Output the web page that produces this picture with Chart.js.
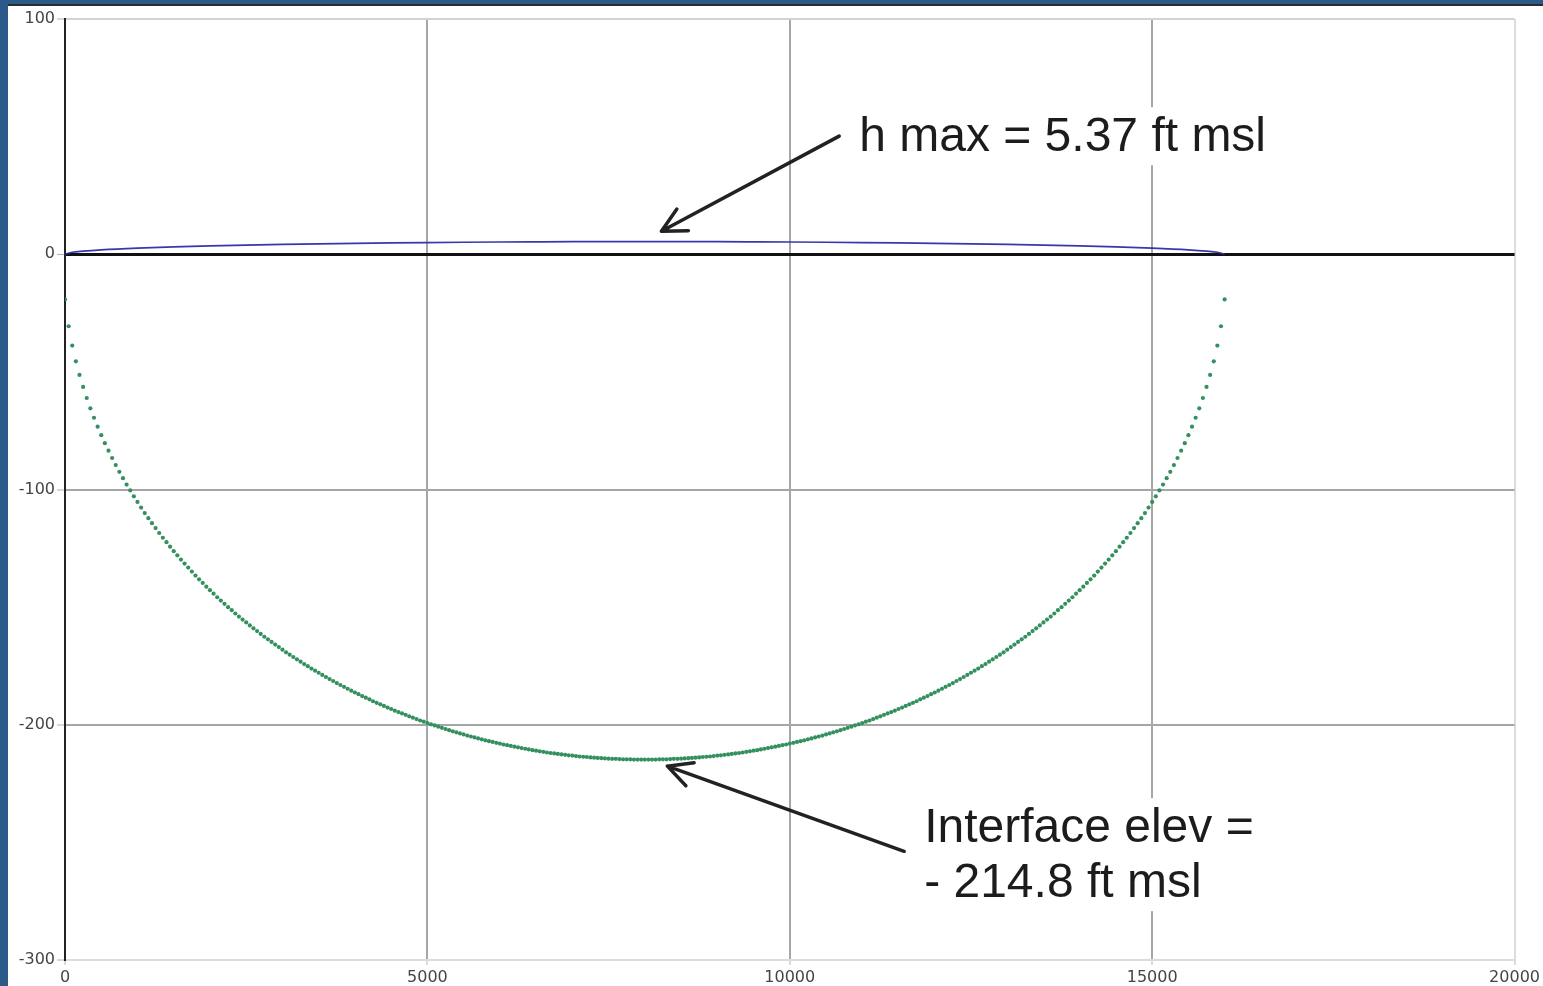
<!DOCTYPE html>
<html>
<head>
<meta charset="utf-8">
<title>Freshwater lens cross-section</title>
<script src="https://cdn.jsdelivr.net/npm/chart.js@4.4.1/dist/chart.umd.min.js"></script>
<style>
  html, body { margin: 0; padding: 0; }
  body { width: 1543px; height: 986px; background: #2b5a8a; overflow: hidden; position: relative; }
  .panel {
    position: absolute; left: 8px; top: 4px; width: 1535px; height: 980px;
    background: #fff; border-top: 2px solid #2a2d30;
  }
  .panel canvas { display: block; }
</style>
</head>
<body>
<div class="panel"><canvas id="lens-chart" width="1535" height="980"></canvas></div>
<script>
/* Freshwater lens: head above msl and fresh/salt interface */

// distance along section (ft) for the interface points
var DIST_FT = [
  0,50,100,150,200,250,300,350,400,450,500,550,600,650,700,750,800,850,900,950,
  1000,1050,1100,1150,1200,1250,1300,1350,1400,1450,1500,1550,1600,1650,1700,1750,1800,1850,1900,1950,
  2000,2050,2100,2150,2200,2250,2300,2350,2400,2450,2500,2550,2600,2650,2700,2750,2800,2850,2900,2950,
  3000,3050,3100,3150,3200,3250,3300,3350,3400,3450,3500,3550,3600,3650,3700,3750,3800,3850,3900,3950,
  4000,4050,4100,4150,4200,4250,4300,4350,4400,4450,4500,4550,4600,4650,4700,4750,4800,4850,4900,4950,
  5000,5050,5100,5150,5200,5250,5300,5350,5400,5450,5500,5550,5600,5650,5700,5750,5800,5850,5900,5950,
  6000,6050,6100,6150,6200,6250,6300,6350,6400,6450,6500,6550,6600,6650,6700,6750,6800,6850,6900,6950,
  7000,7050,7100,7150,7200,7250,7300,7350,7400,7450,7500,7550,7600,7650,7700,7750,7800,7850,7900,7950,
  8000,8050,8100,8150,8200,8250,8300,8350,8400,8450,8500,8550,8600,8650,8700,8750,8800,8850,8900,8950,
  9000,9050,9100,9150,9200,9250,9300,9350,9400,9450,9500,9550,9600,9650,9700,9750,9800,9850,9900,9950,
  10000,10050,10100,10150,10200,10250,10300,10350,10400,10450,10500,10550,10600,10650,10700,10750,10800,10850,10900,10950,
  11000,11050,11100,11150,11200,11250,11300,11350,11400,11450,11500,11550,11600,11650,11700,11750,11800,11850,11900,11950,
  12000,12050,12100,12150,12200,12250,12300,12350,12400,12450,12500,12550,12600,12650,12700,12750,12800,12850,12900,12950,
  13000,13050,13100,13150,13200,13250,13300,13350,13400,13450,13500,13550,13600,13650,13700,13750,13800,13850,13900,13950,
  14000,14050,14100,14150,14200,14250,14300,14350,14400,14450,14500,14550,14600,14650,14700,14750,14800,14850,14900,14950,
  15000,15050,15100,15150,15200,15250,15300,15350,15400,15450,15500,15550,15600,15650,15700,15750,15800,15850,15900,15950,
  16000
];

// interface elevation (ft msl)
var INTERFACE_FT = [
  -19.2,-30.6,-38.8,-45.5,-51.3,-56.4,-61.1,-65.5,-69.5,-73.3,-76.9,-80.3,-83.5,-86.6,-89.6,-92.5,-95.2,-97.9,-100.4,-102.9,
  -105.3,-107.7,-110.0,-112.2,-114.3,-116.4,-118.5,-120.5,-122.4,-124.3,-126.2,-128.0,-129.8,-131.5,-133.2,-134.9,-136.6,-138.2,-139.7,-141.3,
  -142.8,-144.3,-145.8,-147.2,-148.6,-150.0,-151.3,-152.7,-154.0,-155.3,-156.5,-157.8,-159.0,-160.2,-161.4,-162.6,-163.7,-164.8,-165.9,-167.0,
  -168.1,-169.2,-170.2,-171.2,-172.2,-173.2,-174.2,-175.1,-176.1,-177.0,-177.9,-178.8,-179.7,-180.6,-181.4,-182.3,-183.1,-183.9,-184.7,-185.5,
  -186.3,-187.0,-187.8,-188.5,-189.2,-190.0,-190.7,-191.3,-192.0,-192.7,-193.3,-194.0,-194.6,-195.2,-195.8,-196.4,-197.0,-197.6,-198.2,-198.7,
  -199.3,-199.8,-200.3,-200.8,-201.3,-201.8,-202.3,-202.8,-203.2,-203.7,-204.1,-204.6,-205.0,-205.4,-205.8,-206.2,-206.6,-207.0,-207.3,-207.7,
  -208.0,-208.4,-208.7,-209.0,-209.3,-209.6,-209.9,-210.2,-210.5,-210.8,-211.0,-211.3,-211.5,-211.8,-212.0,-212.2,-212.4,-212.6,-212.8,-213.0,
  -213.1,-213.3,-213.5,-213.6,-213.7,-213.9,-214.0,-214.1,-214.2,-214.3,-214.4,-214.5,-214.5,-214.6,-214.7,-214.7,-214.7,-214.8,-214.8,-214.8,
  -214.8,
  -214.8,-214.8,-214.8,-214.7,-214.7,-214.7,-214.6,-214.5,-214.5,-214.4,-214.3,-214.2,-214.1,-214.0,-213.9,-213.7,-213.6,-213.5,-213.3,-213.1,
  -213.0,-212.8,-212.6,-212.4,-212.2,-212.0,-211.8,-211.5,-211.3,-211.0,-210.8,-210.5,-210.2,-209.9,-209.6,-209.3,-209.0,-208.7,-208.4,-208.0,
  -207.7,-207.3,-207.0,-206.6,-206.2,-205.8,-205.4,-205.0,-204.6,-204.1,-203.7,-203.2,-202.8,-202.3,-201.8,-201.3,-200.8,-200.3,-199.8,-199.3,
  -198.7,-198.2,-197.6,-197.0,-196.4,-195.8,-195.2,-194.6,-194.0,-193.3,-192.7,-192.0,-191.3,-190.7,-190.0,-189.2,-188.5,-187.8,-187.0,-186.3,
  -185.5,-184.7,-183.9,-183.1,-182.3,-181.4,-180.6,-179.7,-178.8,-177.9,-177.0,-176.1,-175.1,-174.2,-173.2,-172.2,-171.2,-170.2,-169.2,-168.1,
  -167.0,-165.9,-164.8,-163.7,-162.6,-161.4,-160.2,-159.0,-157.8,-156.5,-155.3,-154.0,-152.7,-151.3,-150.0,-148.6,-147.2,-145.8,-144.3,-142.8,
  -141.3,-139.7,-138.2,-136.6,-134.9,-133.2,-131.5,-129.8,-128.0,-126.2,-124.3,-122.4,-120.5,-118.5,-116.4,-114.3,-112.2,-110.0,-107.7,-105.3,
  -102.9,-100.4,-97.9,-95.2,-92.5,-89.6,-86.6,-83.5,-80.3,-76.9,-73.3,-69.5,-65.5,-61.1,-56.4,-51.3,-45.5,-38.8,-30.6,-19.2
];

// water table (head) along the section, ft msl
var HEAD_X = [0,100,250,500,1000,1500,2000,2500,3000,3500,4000,4500,5000,5500,6000,6500,7000,7500,8000,
  8500,9000,9500,10000,10500,11000,11500,12000,12500,13000,13500,14000,14500,15000,15500,15750,15900,16000];
var HEAD_FT = [0,0.85,1.33,1.87,2.60,3.13,3.55,3.90,4.19,4.44,4.65,4.83,4.98,5.10,5.20,5.27,5.33,5.36,5.37,
  5.36,5.33,5.27,5.20,5.10,4.98,4.83,4.65,4.44,4.19,3.90,3.55,3.13,2.60,1.87,1.33,0.85,0];

var X_TICKS = [0, 5000, 10000, 15000, 20000];
var Y_TICKS = [100, 0, -100, -200, -300];

// callouts, anchored in data units
var NOTES = [
  { lines: ['h max = 5.37 ft msl'], x: 10958, y: 43.8, tip: [8229, 9.8], tail: [10682, 50.2] },
  { lines: ['Interface elev =', '- 214.8 ft msl'], x: 11854, y: -249.9, tip: [8311, -217.6], tail: [11578, -253.8] }
];

(function () {
  'use strict';

  function pairs(xs, ys) {
    return xs.map(function (x, i) { return { x: x, y: ys[i] }; });
  }

  function plain(v) { return String(v); }

  var tickFont = { family: '"DejaVu Sans", Verdana, sans-serif', size: 16 };

  var calloutPlugin = {
    id: 'callouts',
    afterDraw: function (chart) {
      var c = chart.ctx, xs = chart.scales.x, ys = chart.scales.y;
      c.save();
      c.font = '48px "Liberation Sans", Arial, sans-serif';
      c.textBaseline = 'alphabetic';
      NOTES.forEach(function (n) {
        var px = xs.getPixelForValue(n.x), py = ys.getPixelForValue(n.y);
        var w = 0;
        n.lines.forEach(function (t) { w = Math.max(w, c.measureText(t).width); });
        // white backing box hides the grid behind the text
        c.fillStyle = '#fff';
        c.fillRect(px - 8, py - 44, w + 16, (n.lines.length - 1) * 55 + 58);
        c.fillStyle = '#1c1c1c';
        n.lines.forEach(function (t, i) { c.fillText(t, px, py + i * 55); });

        // arrow
        var tx = xs.getPixelForValue(n.tip[0]), ty = ys.getPixelForValue(n.tip[1]);
        var sx = xs.getPixelForValue(n.tail[0]), sy = ys.getPixelForValue(n.tail[1]);
        var ang = Math.atan2(sy - ty, sx - tx), len = 27, spread = 0.47;
        c.strokeStyle = '#222';
        c.lineWidth = 3.5;
        c.lineCap = 'round';
        c.lineJoin = 'round';
        c.beginPath();
        c.moveTo(sx, sy);
        c.lineTo(tx, ty);
        c.moveTo(tx + len * Math.cos(ang - spread), ty + len * Math.sin(ang - spread));
        c.lineTo(tx, ty);
        c.lineTo(tx + len * Math.cos(ang + spread), ty + len * Math.sin(ang + spread));
        c.stroke();
      });
      c.restore();
    }
  };

  new Chart(document.getElementById('lens-chart').getContext('2d'), {
    type: 'scatter',
    data: {
      datasets: [{
        label: 'Head',
        data: pairs(HEAD_X, HEAD_FT),
        showLine: true,
        borderColor: 'rgba(45, 45, 165, 0.95)',
        borderWidth: 1.7,
        pointRadius: 0,
        cubicInterpolationMode: 'monotone',
        order: 1
      }, {
        label: 'Interface',
        data: pairs(DIST_FT, INTERFACE_FT),
        showLine: false,
        pointRadius: 2.1,
        pointBorderWidth: 0,
        pointBackgroundColor: 'rgb(52, 145, 95)',
        order: 2
      }]
    },
    options: {
      responsive: false,
      animation: false,
      layout: { padding: { top: 13, right: 25, left: 0, bottom: 0 } },
      plugins: { legend: { display: false }, tooltip: { enabled: false } },
      scales: {
        x: {
          type: 'linear', min: 0, max: 20000,
          afterBuildTicks: function (s) { s.ticks = X_TICKS.map(function (v) { return { value: v }; }); },
          afterFit: function (s) { s.height = 26; },
          ticks: { color: '#454545', font: tickFont, padding: 3, maxRotation: 0, autoSkip: false, callback: plain },
          grid: {
            color: function (ctx) {
              var v = ctx.tick && ctx.tick.value;
              if (v === 0) return 'rgba(0,0,0,0)';
              return v === 20000 ? '#dcdcdc' : '#a6a6a6';
            },
            lineWidth: 2, tickLength: 5, tickColor: '#b5b5b5', tickWidth: 1
          },
          border: { color: '#dcdcdc', width: 2 }
        },
        y: {
          min: -300, max: 100,
          afterBuildTicks: function (s) { s.ticks = Y_TICKS.map(function (v) { return { value: v }; }); },
          afterFit: function (s) { s.width = 57; },
          ticks: { color: '#454545', font: tickFont, padding: 2, callback: plain },
          grid: {
            color: function (ctx) {
              var v = ctx.tick && ctx.tick.value;
              if (v === 0) return '#111';
              if (v === 100) return '#d2d2d2';
              if (v === -300) return '#dcdcdc';
              return '#a6a6a6';
            },
            lineWidth: function (ctx) { return ctx.tick && ctx.tick.value === 0 ? 3 : 2; },
            tickLength: 8, tickColor: '#b0b0b0', tickWidth: 1
          },
          border: { color: '#222', width: 2 }
        }
      }
    },
    plugins: [calloutPlugin]
  });
})();
</script>
</body>
</html>
